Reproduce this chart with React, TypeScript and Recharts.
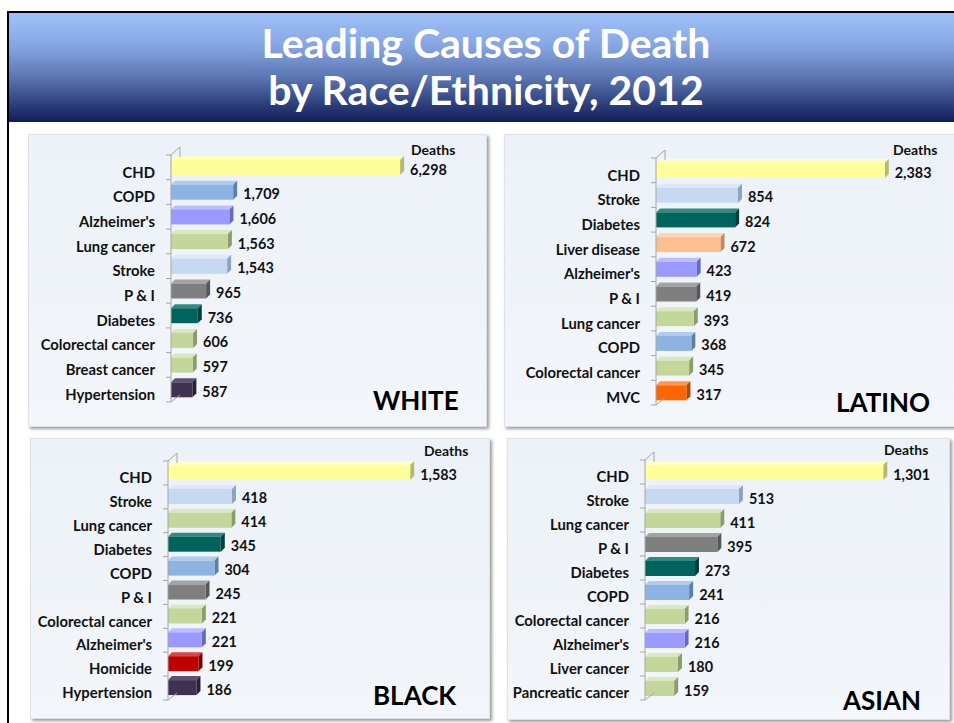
import { Bar, BarChart, LabelList, XAxis, YAxis } from "recharts";

const whiteCauses = ["CHD", "COPD", "Alzheimer's", "Lung cancer", "Stroke", "P & I", "Diabetes", "Colorectal cancer", "Breast cancer", "Hypertension"];
const whiteDeaths = [6298, 1709, 1606, 1563, 1543, 965, 736, 606, 597, 587];

const latinoCauses = ["CHD", "Stroke", "Diabetes", "Liver disease", "Alzheimer's", "P & I", "Lung cancer", "COPD", "Colorectal cancer", "MVC"];
const latinoDeaths = [2383, 854, 824, 672, 423, 419, 393, 368, 345, 317];

const blackCauses = ["CHD", "Stroke", "Lung cancer", "Diabetes", "COPD", "P & I", "Colorectal cancer", "Alzheimer's", "Homicide", "Hypertension"];
const blackDeaths = [1583, 418, 414, 345, 304, 245, 221, 221, 199, 186];

const asianCauses = ["CHD", "Stroke", "Lung cancer", "P & I", "Diabetes", "COPD", "Colorectal cancer", "Alzheimer's", "Liver cancer", "Pancreatic cancer"];
const asianDeaths = [1301, 513, 411, 395, 273, 241, 216, 216, 180, 159];

const FONT = "Lato, 'Open Sans', sans-serif";

// front / top / side face colours per cause
const green = ["#c4d79b", "#dbe7c0", "#8c9d69"];
const causeColors: Record<string, string[]> = {
  CHD: ["#ffff99", "#ffffc4", "#b9b96c"],
  COPD: ["#8db3e2", "#b0cbef", "#5b7fad"],
  "Alzheimer's": ["#9999ff", "#bcbcff", "#6666c4"],
  "Lung cancer": green,
  "Colorectal cancer": green,
  "Breast cancer": green,
  "Liver cancer": green,
  "Pancreatic cancer": green,
  Stroke: ["#c6d9f1", "#dee9f8", "#8ea3c0"],
  "P & I": ["#7f7f7f", "#a3a3a3", "#575757"],
  Diabetes: ["#00645c", "#2f8a83", "#00403b"],
  Hypertension: ["#3f3151", "#605174", "#282034"],
  "Liver disease": ["#fac090", "#fdd6b6", "#c28a5c"],
  MVC: ["#ff6600", "#ff9550", "#b34700"],
  Homicide: ["#c00000", "#dc4545", "#800000"],
};

const D = 4;

function Bar3D(props: any) {
  const { x, y, width, height, payload } = props;
  if (width == null || width <= 0) return null;
  const [front, top, side] = causeColors[payload.name] || green;
  return (
    <g>
      <polygon
        points={`${x},${y} ${x + D},${y - D} ${x + width + D},${y - D} ${x + width},${y}`}
        fill={top}
      />
      <polygon
        points={`${x + width},${y} ${x + width + D},${y - D} ${x + width + D},${y + height - D} ${x + width},${y + height}`}
        fill={side}
      />
      <rect x={x} y={y} width={width} height={height} fill={front} />
    </g>
  );
}

function makeTick(count: number, band: number) {
  return (props: any) => {
    const { x, y, payload } = props;
    const half = payload && payload.offset ? payload.offset : band / 2;
    const idx = payload ? payload.index : props.index;
    const top = y - half;
    const bottom = y + half;
    return (
      <g>
        <line x1={x - 5} y1={top} x2={x} y2={top} stroke="#a6a6a6" />
        {idx === 0 && (
          <>
            <line x1={x} y1={top} x2={x + 9} y2={top - 8} stroke="#a6a6a6" />
            <line x1={x + 9} y1={top - 8} x2={x + 9} y2={top + 2} stroke="#a6a6a6" />
          </>
        )}
        {idx === count - 1 && (
          <>
            <line x1={x - 5} y1={bottom} x2={x} y2={bottom} stroke="#a6a6a6" />
            <line x1={x} y1={bottom} x2={x + 9} y2={bottom - 7} stroke="#a6a6a6" />
          </>
        )}
        <text
          x={x - 16}
          y={y + 5}
          dy="0.35em"
          textAnchor="end"
          fontFamily={FONT}
          fontWeight={700}
          fontSize={14.8}
          fill="#111"
        >
          {payload.value}
        </text>
      </g>
    );
  };
}

function valueLabel(props: any) {
  const { x, y, width, height, value } = props;
  return (
    <text
      x={x + width + 10}
      y={y + height / 2 + 2}
      dy="0.35em"
      fontFamily={FONT}
      fontWeight={700}
      fontSize={14.4}
      fill="#111"
    >
      {Number(value).toLocaleString("en-US")}
    </text>
  );
}

type PanelProps = {
  group: string;
  causes: string[];
  deaths: number[];
  domainMax: number;
  left: number;
  top: number;
  width: number;
  height: number;
  axisWidth: number;
  margin: { top: number; right: number; bottom: number };
  deathsAt: [number, number];
  groupAt: [number, number];
};

function Panel(p: PanelProps) {
  const data = p.causes.map((name, i) => ({ name, deaths: p.deaths[i] }));
  const band = (p.height - p.margin.top - p.margin.bottom) / data.length;
  return (
    <div
      style={{
        position: "absolute",
        left: p.left,
        top: p.top,
        width: p.width,
        height: p.height,
        background: "linear-gradient(#ecf2f8, #f3f6fa)",
        border: "1px solid #dde2e8",
        boxShadow: "2px 2px 3px rgba(0,0,0,0.4)",
        boxSizing: "border-box",
      }}
    >
      <div style={{ position: "absolute", left: -1, top: -1 }}>
        <BarChart
          width={p.width}
          height={p.height}
          data={data}
          layout="vertical"
          margin={{ top: p.margin.top, right: p.margin.right, bottom: p.margin.bottom, left: 0 }}
        >
          <XAxis type="number" domain={[0, p.domainMax]} hide />
          <YAxis
            type="category"
            dataKey="name"
            width={p.axisWidth}
            axisLine={{ stroke: "#a6a6a6" }}
            tickLine={false}
            tickSize={0}
            tickMargin={0}
            interval={0}
            tick={makeTick(data.length, band)}
          />
          <Bar dataKey="deaths" barSize={15} isAnimationActive={false} shape={(sp: any) => <Bar3D {...sp} />}>
            <LabelList dataKey="deaths" content={valueLabel} />
          </Bar>
        </BarChart>
      </div>
      <div
        style={{
          position: "absolute",
          left: p.deathsAt[0] - p.left,
          top: p.deathsAt[1] - p.top - 7.4,
          fontFamily: FONT,
          fontWeight: 700,
          fontSize: 14,
          lineHeight: "14px",
          color: "#111",
        }}
      >
        Deaths
      </div>
      <div
        style={{
          position: "absolute",
          left: p.groupAt[0] - p.left,
          top: p.groupAt[1] - p.top - 13.7,
          fontFamily: FONT,
          fontWeight: 700,
          fontSize: 26,
          lineHeight: "26px",
          color: "#000",
        }}
      >
        {p.group}
      </div>
    </div>
  );
}

export default function App() {
  return (
    <div style={{ position: "absolute", left: 0, top: 0, width: 954, height: 723, overflow: "hidden", background: "#fff" }}>
      <div
        style={{
          position: "absolute",
          left: 7,
          top: 11,
          width: 980,
          height: 760,
          border: "2px solid #000",
          boxSizing: "border-box",
        }}
      />
      <div
        style={{
          position: "absolute",
          left: 9,
          top: 13,
          width: 954,
          height: 109,
          background: "linear-gradient(#9fc1f9 0%, #86a6e2 30%, #5a74b0 60%, #2a3d78 85%, #0f1d56 100%)",
          color: "#fff",
          fontFamily: FONT,
          fontWeight: 700,
          fontSize: 41,
          lineHeight: "47px",
          textAlign: "center",
        }}
      >
        <div style={{ position: "absolute", left: 0, right: 0, top: 5.5 }}>
          Leading Causes of Death
          <br />
          by Race/Ethnicity, 2012
        </div>
      </div>

      <Panel
        group="WHITE"
        causes={whiteCauses}
        deaths={whiteDeaths}
        domainMax={8000}
        left={28}
        top={134}
        width={459}
        height={293}
        axisWidth={143}
        margin={{ top: 21, right: 25, bottom: 25 }}
        deathsAt={[410, 149]}
        groupAt={[372, 400]}
      />
      <Panel
        group="LATINO"
        causes={latinoCauses}
        deaths={latinoDeaths}
        domainMax={3000}
        left={504}
        top={134}
        width={460}
        height={293}
        axisWidth={152}
        margin={{ top: 24, right: 20, bottom: 22 }}
        deathsAt={[892, 149]}
        groupAt={[835, 402]}
      />
      <Panel
        group="BLACK"
        causes={blackCauses}
        deaths={blackDeaths}
        domainMax={2000}
        left={30}
        top={438}
        width={460}
        height={281}
        axisWidth={138}
        margin={{ top: 23, right: 16, bottom: 19 }}
        deathsAt={[423, 450]}
        groupAt={[372, 695]}
      />
      <Panel
        group="ASIAN"
        causes={asianCauses}
        deaths={asianDeaths}
        domainMax={1600}
        left={507}
        top={438}
        width={443}
        height={282}
        axisWidth={138}
        margin={{ top: 22, right: 12, bottom: 20 }}
        deathsAt={[883, 449]}
        groupAt={[842, 700]}
      />
    </div>
  );
}
